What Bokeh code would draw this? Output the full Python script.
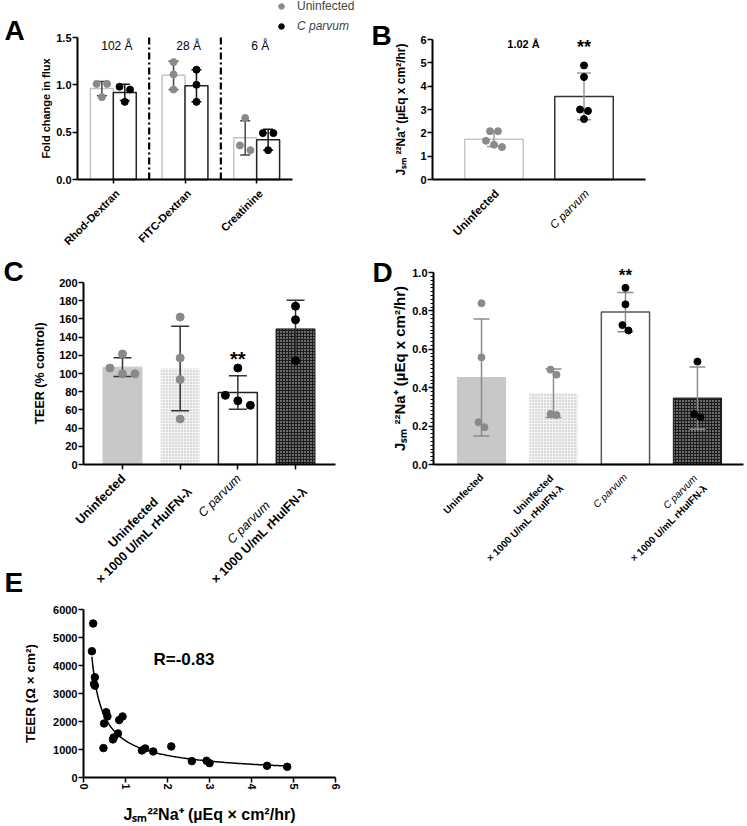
import numpy as np
from bokeh.plotting import figure
from bokeh.models import Range1d, FixedTicker, Label, Legend, LegendItem, PrintfTickFormatter
from bokeh.layouts import column, row
from bokeh.embed import file_html
from bokeh.resources import INLINE

FONT = "Liberation Sans"
GRAY = "#8a8a8a"
BLACK = "#000000"

# ---------------- data ----------------
# Panel A
a_categories = ["Rhod-Dextran", "FITC-Dextran", "Creatinine"]
a_pore_sizes = ["102 Å", "28 Å", "6 Å"]
a_series = ["Uninfected", "C parvum"]
a_uninf_mean = [0.96, 1.10, 0.44]
a_uninf_sd = [0.075, 0.15, 0.18]
a_cp_mean = [0.92, 0.99, 0.42]
a_cp_sd = [0.085, 0.17, 0.11]
a_uninf_pts = [[1.01, 1.01, 0.87], [1.24, 1.11, 0.95], [0.65, 0.36, 0.31]]
a_cp_pts = [[0.98, 0.95, 0.82], [1.16, 1.00, 0.82], [0.49, 0.49, 0.31]]

# Panel B
b_categories = ["Uninfected", "C parvum"]
b_mean = [1.72, 3.56]
b_sd = [0.31, 1.0]
b_pts = [[2.07, 2.07, 1.66, 1.49, 1.39], [4.89, 4.39, 3.00, 2.94, 2.59]]
b_sig = ["", "**"]
b_note = "1.02 Å"

# Panels C and D share the categories
cd_categories = [["Uninfected"],
                 ["Uninfected", "× 1000 U/mL rHuIFN-λ"],
                 ["C parvum"],
                 ["C parvum", "× 1000 U/mL rHuIFN-λ"]]
c_mean = [107, 105.5, 79, 149]
c_sd = [10.4, 46.5, 18.4, 31.5]
c_pts = [[121.5, 106, 99.6, 99.6], [162, 117, 93.4, 50], [106, 76, 70, 65], [174, 159, 114]]
c_sig = ["", "", "**", ""]

d_mean = [0.453, 0.371, 0.794, 0.346]
d_sd = [0.305, 0.126, 0.102, 0.162]
d_pts = [[0.84, 0.558, 0.22, 0.194], [0.494, 0.468, 0.263, 0.258],
         [0.92, 0.834, 0.726, 0.698], [0.536, 0.263, 0.246]]
d_sig = ["", "", "**", ""]

# Panel E
e_jsm = [0.23, 0.20, 0.27, 0.25, 0.27, 0.54, 0.57, 0.49, 0.475, 0.70, 0.72, 0.82, 0.85, 0.93,
         1.39, 1.47, 1.66, 2.09, 2.58, 2.93, 3.00, 4.37, 4.85]
e_teer = [5500, 4510, 3580, 3340, 3280, 2330, 2180, 1930, 1050, 1360, 1430, 1575, 2050, 2180,
          966, 1038, 930, 1110, 585, 597, 513, 418, 382]
e_r = "R=-0.83"

JSM_LABEL = "Jₛₘ ²²Na⁺ (µEq x cm²/hr)"

# ---------------- geometry (page px) ----------------
def geom(cx, cy, w, h, left, right, top, bottom, xr, yr):
    return dict(cx=cx, cy=cy, w=w, h=h, left=left, right=right, top=top, bottom=bottom, xr=xr, yr=yr)

GA = geom(0, 0, 372, 255, 77, 292, 37, 179, (0, 3), (0, 1.5))
GB = geom(372, 0, 373, 255, 432, 645, 39, 179, (-0.683, 1.683), (0, 6))
GC = geom(0, 255, 372, 345, 83, 335, 282, 464, (-0.676, 3.693), (0, 200))
GD = geom(372, 255, 373, 345, 433, 743, 272, 464, (-0.667, 3.64), (0, 1))
GE = geom(0, 600, 372, 224, 83, 335, 609, 777, (0, 6), (0, 6000))


def kx(g):
    return (g['right'] - g['left']) / (g['xr'][1] - g['xr'][0])


def ky(g):
    return (g['bottom'] - g['top']) / (g['yr'][1] - g['yr'][0])


def X(g, px):
    return g['xr'][0] + (px - g['left']) / kx(g)


def Y(g, py):
    return g['yr'][0] + (g['bottom'] - py) / ky(g)


def make_fig(g, tick_size="11px"):
    # the frame covers the whole canvas; axes sit at fixed data locations
    p = figure(width=g['w'], height=g['h'],
               x_range=Range1d(X(g, g['cx']), X(g, g['cx'] + g['w'])),
               y_range=Range1d(Y(g, g['cy'] + g['h']), Y(g, g['cy'])),
               output_backend="svg", toolbar_location=None, min_border=0)
    p.outline_line_color = None
    p.grid.visible = False
    p.background_fill_color = "white"
    p.border_fill_color = "white"
    p.xaxis.fixed_location = g['yr'][0]
    p.yaxis.fixed_location = g['xr'][0]
    p.xaxis.bounds = g['xr']
    p.yaxis.bounds = g['yr']
    for ax in p.axis:
        ax.axis_line_width = 2
        ax.axis_line_color = "black"
        ax.major_tick_line_width = 1.5
        ax.major_tick_line_color = "black"
        ax.major_tick_out = 5
        ax.major_tick_in = 0
        ax.minor_tick_out = 0
        ax.minor_tick_in = 0
        ax.major_label_text_font = FONT
        ax.major_label_text_font_style = "bold"
        ax.major_label_text_color = "black"
        ax.major_label_text_font_size = tick_size
        ax.major_label_standoff = 1
        ax.axis_label_text_font = FONT
        ax.axis_label_text_font_style = "bold"
        ax.axis_label_text_color = "black"
    return p


def hide_xlabels(p, ticks, tick_out):
    p.xaxis.ticker = FixedTicker(ticks=ticks)
    p.xaxis.major_label_overrides = {t: "" for t in ticks}
    p.xaxis.major_tick_out = tick_out
    p.xaxis.major_label_text_font_size = "1px"


def dodge(vals, tol, step):
    order = sorted(range(len(vals)), key=lambda i: -vals[i])
    clusters, cur = [], [order[0]]
    for i in order[1:]:
        if vals[cur[-1]] - vals[i] <= tol:
            cur.append(i)
        else:
            clusters.append(cur)
            cur = [i]
    clusters.append(cur)
    off = [0.0] * len(vals)
    for cl in clusters:
        k = len(cl)
        for j, i in enumerate(cl):
            off[i] = (j - (k - 1) / 2) * step
    return off


def draw_group(p, g, xc, mean, sd, pts, width, bar_style, dot_color, err_color,
               cap_px, dot_size, step_px):
    p.vbar(x=[xc], top=[mean], bottom=0, width=width, **bar_style)
    cap = cap_px / kx(g)
    p.segment(x0=[xc, xc - cap, xc - cap], y0=[mean - sd, mean + sd, mean - sd],
              x1=[xc, xc + cap, xc + cap], y1=[mean + sd, mean + sd, mean - sd],
              line_color=err_color, line_width=1.5)
    off = dodge(pts, 7.0 / ky(g), step_px / kx(g))
    return p.scatter(x=[xc + o for o in off], y=pts, size=dot_size,
                     fill_color=dot_color, line_color=dot_color)


def tick_label(p, x, text, style, size, dx, dy, align="right"):
    p.add_layout(Label(x=x, y=0, x_offset=dx, y_offset=-dy, text=text, angle=np.pi / 4,
                       text_align=align, text_baseline="middle", text_font=FONT,
                       text_font_style=style, text_font_size=size, text_color="black"))


def text_at(p, g, px, py, text, size, style="bold", align="center", baseline="middle"):
    p.add_layout(Label(x=X(g, px), y=Y(g, py), text=text, text_align=align,
                       text_baseline=baseline, text_font=FONT, text_font_style=style,
                       text_font_size=size, text_color="black"))


def panel_letter(p, g, px, py, letter):
    text_at(p, g, px, py, letter, "28px", "bold", "left", "middle")


def style_of(text):
    return "italic" if text == "C parvum" else "bold"


# ---------------- Panel A ----------------
pa = make_fig(GA, "11px")
pa.yaxis.ticker = FixedTicker(ticks=[0, 0.5, 1.0, 1.5])
pa.yaxis.formatter = PrintfTickFormatter(format="%.1f")
pa.yaxis.axis_label = "Fold change in flux"
pa.yaxis.axis_label_text_font_size = "11px"
pa.yaxis.axis_label_standoff = 1
a_centers = [i + 0.5 for i in range(len(a_categories))]
hide_xlabels(pa, a_centers, 4)
pa.segment(x0=[1, 2], y0=[0, 0], x1=[1, 2], y1=[1.5, 1.5], line_color="black",
           line_width=2.2, line_dash="7 3 2 3")
leg_renderers = []
for i, xc in enumerate(a_centers):
    ru = draw_group(pa, GA, xc - 0.16, a_uninf_mean[i], a_uninf_sd[i], a_uninf_pts[i], 0.32,
                    dict(fill_color="white", line_color="#c4c4c4", line_width=1.5),
                    GRAY, "#444444", 5, 7, 10.5)
    rc = draw_group(pa, GA, xc + 0.16, a_cp_mean[i], a_cp_sd[i], a_cp_pts[i], 0.32,
                    dict(fill_color="white", line_color="#222222", line_width=1.5),
                    BLACK, "#111111", 5, 7, 10.5)
    if i == 0:
        leg_renderers = [ru, rc]
    pa.add_layout(Label(x=xc + 0.05, y=Y(GA, 45), text=a_pore_sizes[i], text_align="center",
                        text_baseline="middle", text_font=FONT, text_font_size="12px",
                        text_color="black"))
    tick_label(pa, xc, a_categories[i], "bold", "11px", 4, 12)
for r, lab, st, cy in [(leg_renderers[0], a_series[0], "normal", 6),
                       (leg_renderers[1], a_series[1], "italic", 26)]:
    leg = Legend(items=[LegendItem(label=lab, renderers=[r])],
                 location=(281 - 7 - GA['cx'], GA['cy'] + GA['h'] - (cy + 7)),
                 border_line_color=None, background_fill_alpha=0, padding=0, margin=0,
                 spacing=0, glyph_width=14, glyph_height=14, label_standoff=9,
                 label_height=14, label_width=10, label_text_font=FONT,
                 label_text_font_size="12px", label_text_font_style=st,
                 label_text_baseline="middle")
    pa.add_layout(leg)
panel_letter(pa, GA, 4, 30, "A")

# ---------------- Panel B ----------------
pb = make_fig(GB, "11px")
pb.yaxis.ticker = FixedTicker(ticks=[0, 1, 2, 3, 4, 5, 6])
pb.yaxis.axis_label = JSM_LABEL
pb.yaxis.axis_label_text_font_size = "12px"
pb.yaxis.axis_label_standoff = 9
hide_xlabels(pb, [0, 1], 0)
b_bar_styles = [dict(fill_color="white", line_color="#c8c8c8", line_width=1.5),
                dict(fill_color="white", line_color="#333333", line_width=1.5)]
b_dot_colors = [GRAY, BLACK]
for i in range(len(b_categories)):
    draw_group(pb, GB, i, b_mean[i], b_sd[i], b_pts[i], 0.65, b_bar_styles[i],
               b_dot_colors[i], "#999999", 7, 7, 8)
    tick_label(pb, i, b_categories[i], style_of(b_categories[i]), "11.5px", 3, 12)
    if b_sig[i]:
        pb.add_layout(Label(x=i, y=Y(GB, 42), text=b_sig[i], text_align="center",
                            text_baseline="middle", text_font=FONT, text_font_size="18px",
                            text_font_style="bold", text_color="black", y_offset=-4))
text_at(pb, GB, 523, 43, b_note, "11px")
panel_letter(pb, GB, 371, 35, "B")

# ---------------- Panels C / D shared styles ----------------
cd_bar_styles = [
    dict(fill_color="#c8c8c8", line_color="#c8c8c8"),
    dict(fill_color="#f2f2f2", line_color=None, hatch_pattern="dot", hatch_color="#b5b5b5",
         hatch_scale=3, hatch_weight=1),
    dict(fill_color="white", line_color="#222222", line_width=1.5),
    dict(fill_color="#1c1c1c", line_color="#1c1c1c", hatch_pattern="dot", hatch_color="#e0e0e0",
         hatch_scale=3, hatch_weight=1),
]
cd_dot_colors = [GRAY, GRAY, BLACK, BLACK]

# ---------------- Panel C ----------------
pc = make_fig(GC, "11px")
pc.yaxis.ticker = FixedTicker(ticks=list(range(0, 201, 20)))
pc.yaxis.axis_label = "TEER (% control)"
pc.yaxis.axis_label_text_font_size = "12.5px"
pc.yaxis.axis_label_standoff = 9
hide_xlabels(pc, [0, 1, 2, 3], 5)
for i in range(len(cd_categories)):
    draw_group(pc, GC, i, c_mean[i], c_sd[i], c_pts[i], 0.675, cd_bar_styles[i],
               cd_dot_colors[i], "#333333", 9, 8, 12.5)
    lines = cd_categories[i]
    if len(lines) == 1:
        tick_label(pc, i, lines[0], style_of(lines[0]), "12.5px", 1, 12)
    else:
        tick_label(pc, i, lines[0], style_of(lines[0]), "12.5px", -47, 58, "center")
        tick_label(pc, i, lines[1], "bold", "12.5px", -36, 71, "center")
    if c_sig[i]:
        pc.add_layout(Label(x=i, y=Y(GC, 354), text=c_sig[i], text_align="center",
                            text_baseline="middle", text_font=FONT, text_font_size="20px",
                            text_font_style="bold", text_color="black", y_offset=-4))
panel_letter(pc, GC, 3, 271, "C")
panel_letter(pc, GC, 4, 582, "E")

# ---------------- Panel D ----------------
pd_ = make_fig(GD, "11px")
pd_.yaxis.ticker = FixedTicker(ticks=[0, 0.2, 0.4, 0.6, 0.8, 1.0],
                               minor_ticks=[k * 0.02 for k in range(51)])
pd_.yaxis.formatter = PrintfTickFormatter(format="%.1f")
pd_.yaxis.minor_tick_out = 3
pd_.yaxis.minor_tick_line_color = "black"
pd_.yaxis.axis_label = JSM_LABEL
pd_.yaxis.axis_label_text_font_size = "15px"
pd_.yaxis.axis_label_standoff = 1
hide_xlabels(pd_, [0, 1, 2, 3], 0)
for i in range(len(cd_categories)):
    st = dict(cd_bar_styles[i])
    if i == 2:
        st["line_color"] = "#555555"
    draw_group(pd_, GD, i, d_mean[i], d_sd[i], d_pts[i], 0.67, st,
               cd_dot_colors[i], "#8c8c8c", 8, 7, 6)
    lines = cd_categories[i]
    if len(lines) == 1:
        tick_label(pd_, i, lines[0], style_of(lines[0]), "10px", 0, 11)
    else:
        tick_label(pd_, i, lines[0], style_of(lines[0]), "10px", -2, 12)
        tick_label(pd_, i, lines[1], "bold", "10px", 8, 22)
    if d_sig[i]:
        pd_.add_layout(Label(x=i, y=Y(GD, 272), text=d_sig[i], text_align="center",
                             text_baseline="middle", text_font=FONT, text_font_size="17px",
                             text_font_style="bold", text_color="black", y_offset=-3))
panel_letter(pd_, GD, 372, 272, "D")

# ---------------- Panel E ----------------
pe = make_fig(GE, "11px")
pe.yaxis.ticker = FixedTicker(ticks=list(range(0, 6001, 1000)))
pe.xaxis.ticker = FixedTicker(ticks=list(range(0, 7)))
pe.xaxis.major_label_orientation = "vertical"
pe.yaxis.axis_label = "TEER (Ω × cm²)"
pe.yaxis.axis_label_text_font_size = "13.5px"
pe.yaxis.axis_label_standoff = 12
pe.xaxis.axis_label = "Jₛₘ²²Na⁺ (µEq × cm²/hr)"
pe.xaxis.axis_label_text_font_size = "16px"
pe.xaxis.axis_label_standoff = 13
# power-law fit of the scatter (least squares in log space)
ex = np.array(e_jsm)
ey = np.array(e_teer)
slope, icpt = np.polyfit(np.log(ex), np.log(ey), 1)
fx = np.linspace(ex.min(), ex.max(), 200)
pe.line(fx, np.exp(icpt) * fx ** slope, line_color="black", line_width=1.5)
pe.scatter(x=e_jsm, y=e_teer, size=7.5, fill_color=BLACK, line_color=BLACK)
text_at(pe, GE, 153, 659, e_r, "17px", "bold", "left", "middle")

layout = column(row(pa, pb), row(pc, pd_), pe)
open("out.html", "w").write(file_html(layout, INLINE))
